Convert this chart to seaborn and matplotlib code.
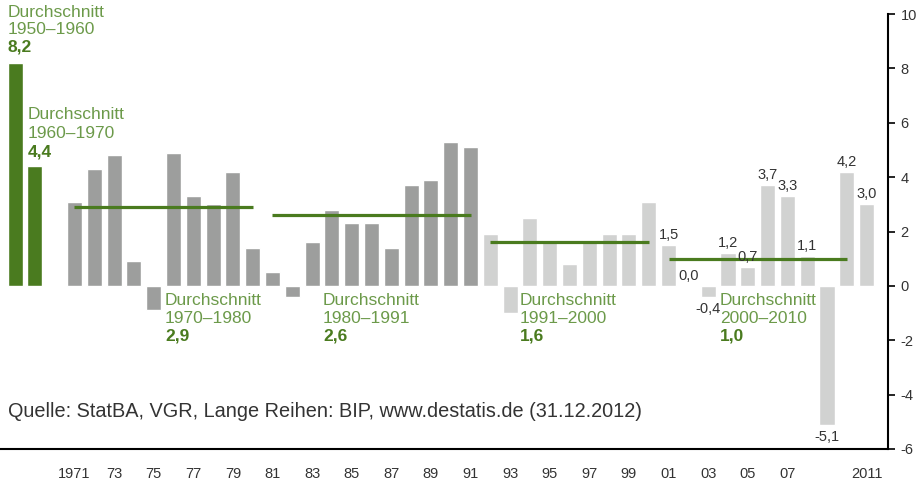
import pandas as pd
import seaborn as sns
import matplotlib.pyplot as plt

# --- data ---
years = list(range(1971, 2012))
growth = [3.1, 4.3, 4.8, 0.9, -0.9, 4.9, 3.3, 3.0, 4.2, 1.4,
          0.5, -0.4, 1.6, 2.8, 2.3, 2.3, 1.4, 3.7, 3.9, 5.3,
          5.1, 1.9, -1.0, 2.5, 1.7, 0.8, 1.7, 1.9, 1.9, 3.1,
          1.5, 0.0, -0.4, 1.2, 0.7, 3.7, 3.3, 1.1, -5.1, 4.2,
          3.0]
light_from = 1992          # bars from this year on are light grey
labelled_from = 2001       # bars from this year on get a value label

early_periods = ["1950–1960", "1960–1970"]
early_values = [8.2, 4.4]

line_periods = ["1970–1980", "1980–1991", "1991–2000", "2000–2010"]
line_values = [2.9, 2.6, 1.6, 1.0]
line_spans = [(1971, 1980), (1981, 1991), (1992, 2000), (2001, 2010)]

tick_years = list(range(1971, 2009, 2)) + [2011]
source = "Quelle: StatBA, VGR, Lange Reihen: BIP, www.destatis.de (31.12.2012)"

# --- colours ---
GREEN = "#4a7b1f"
GREEN_TXT = "#6c9a4a"
DARK_GREY = "#9d9e9d"
LIGHT_GREY = "#d1d2d1"
TXT = "#333333"

sns.set_theme(style="white")
plt.rcParams["font.family"] = ["Liberation Sans", "DejaVu Sans"]
plt.rcParams["axes.unicode_minus"] = False

order = early_periods + [" "] + [str(y) for y in years]
slot = {name: i for i, name in enumerate(order)}


def year_slot(y):
    return slot[str(y)]


df = pd.DataFrame({
    "slot": early_periods + [str(y) for y in years],
    "value": early_values + growth,
    "group": ["early"] * 2 + ["dark" if y < light_from else "light" for y in years],
})

fig = plt.figure(figsize=(9.23, 4.8), dpi=100)
ax = fig.add_axes([0, 31 / 480, 888 / 923, 435 / 480])

sns.barplot(
    data=df, x="slot", y="value", hue="group", order=order,
    palette={"early": GREEN, "dark": DARK_GREY, "light": LIGHT_GREY},
    dodge=False, width=0.76, errorbar=None, saturation=1, legend=False, ax=ax,
)

# average lines per decade
for val, (y0, y1) in zip(line_values, line_spans):
    ax.hlines(val, year_slot(y0), year_slot(y1), color=GREEN, lw=2.3, zorder=3)

# value labels for the recent years
for y, v in zip(years, growth):
    if y < labelled_from:
        continue
    txt = f"{v:.1f}".replace(".", ",")
    if v >= 0:
        ax.annotate(txt, (year_slot(y), v), xytext=(0, 3), textcoords="offset pixels",
                    ha="center", va="bottom", fontsize=10.5, color=TXT)
    else:
        ax.annotate(txt, (year_slot(y), v), xytext=(0, -5), textcoords="offset pixels",
                    ha="center", va="top", fontsize=10.5, color=TXT)


def avg_label(x, y, period, value, step=17.5):
    ax.annotate("Durchschnitt", (x, y), ha="left", va="center",
                fontsize=12.5, color=GREEN_TXT, annotation_clip=False)
    ax.annotate(period, (x, y), xytext=(0, -step), textcoords="offset pixels",
                ha="left", va="center", fontsize=12.5, color=GREEN_TXT, annotation_clip=False)
    ax.annotate(f"{value:.1f}".replace(".", ","), (x, y), xytext=(0, -2 * step),
                textcoords="offset pixels", ha="left", va="center", fontsize=12.5,
                fontweight="bold", color=GREEN, annotation_clip=False)


avg_label(slot[early_periods[0]] - 0.38, 10.04, early_periods[0], early_values[0], step=17)
avg_label(slot[early_periods[1]] - 0.38, 6.29, early_periods[1], early_values[1], step=18.5)
for period, val, x in zip(line_periods, line_values, [7.57, 15.55, 25.5, 35.6]):
    avg_label(x, -0.55, period, val)

ax.text(-0.36, -4.63, source, ha="left", va="center", fontsize=14.3, color=TXT)

# axes styling
ax.set_xlim(-0.76, 44.08)
ax.set_ylim(-6, 10)
ax.set_xlabel("")
ax.set_ylabel("")
ax.set_xticks([year_slot(y) for y in tick_years])
ax.set_xticklabels([str(y) if y in (1971, 2011) else f"{y % 100:02d}" for y in tick_years])
ax.tick_params(axis="x", length=0, pad=13, labelsize=10.5, labelcolor=TXT)
ax.yaxis.tick_right()
ax.set_yticks(range(-6, 11, 2))
ax.tick_params(axis="y", direction="out", length=5, width=1.2, color="black",
               pad=4, labelsize=10.5, labelcolor=TXT)
for side in ("left", "top"):
    ax.spines[side].set_visible(False)
for side in ("right", "bottom"):
    ax.spines[side].set_color("black")
    ax.spines[side].set_linewidth(1.5)

fig.savefig("out.png", dpi=100)
